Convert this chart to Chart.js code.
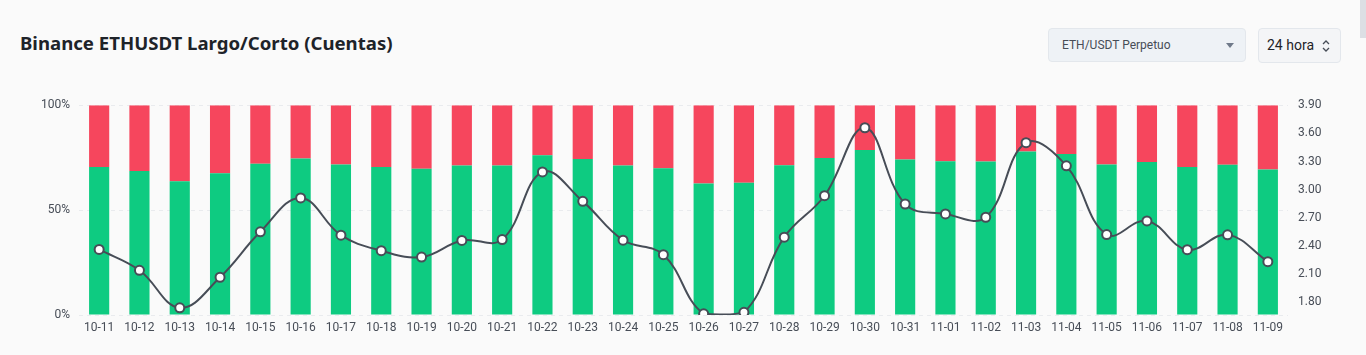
<!DOCTYPE html>
<html>
<head>
<meta charset="utf-8">
<script src="https://cdn.jsdelivr.net/npm/chart.js@4"></script>
<style>
  html,body{margin:0;padding:0;background:#fafafa;width:1366px;height:355px;overflow:hidden;font-family:"Noto Sans",sans-serif;}
  #title{position:absolute;left:20px;top:30px;font-size:18.6px;font-weight:700;color:#1e2329;}
  #sel1{position:absolute;left:1048px;top:28px;width:198px;height:34px;background:#eef2f6;border:1px solid #e3e7ec;border-radius:4px;box-sizing:border-box;font-family:Roboto,sans-serif;font-size:12px;color:#474d57;}
  #sel1 span{position:absolute;left:13px;top:9px;}
  #caret{position:absolute;left:177px;top:14px;width:0;height:0;border-left:4px solid transparent;border-right:4px solid transparent;border-top:5px solid #707a8a;}
  #sel2{position:absolute;left:1258px;top:28px;width:83px;height:35px;background:#f4f5f7;border:1px solid #e3e7ec;border-radius:4px;box-sizing:border-box;font-family:Roboto,sans-serif;font-size:14px;color:#1e2329;}
  #sel2 span{position:absolute;left:8px;top:8px;}
  #sel2 svg{position:absolute;left:62px;top:10px;}
  #scroll{position:absolute;left:1360px;top:0;width:6px;height:38px;background:#dcdfe4;}
  #wrap{position:absolute;left:0;top:88px;width:1366px;height:256px;}
</style>
</head>
<body>
<div id="title">Binance ETHUSDT Largo/Corto (Cuentas)</div>
<div id="sel1"><span>ETH/USDT Perpetuo</span><div id="caret"></div></div>
<div id="sel2"><span>24 hora</span><svg width="10" height="14" viewBox="0 0 10 14"><path d="M2 5 L5 2 L8 5 M2 9 L5 12 L8 9" fill="none" stroke="#474d57" stroke-width="1.3"/></svg></div>
<div id="scroll"></div>
<div id="wrap"><canvas id="c"></canvas></div>
<script>
const categories = ["10-11","10-12","10-13","10-14","10-15","10-16","10-17","10-18","10-19","10-20","10-21","10-22","10-23","10-24","10-25","10-26","10-27","10-28","10-29","10-30","10-31","11-01","11-02","11-03","11-04","11-05","11-06","11-07","11-08","11-09"];
const longPct  = [70.5,68.6,63.8,67.6,72.1,74.6,71.7,70.5,69.7,71.3,71.3,76.2,74.3,71.3,70.0,62.7,63.0,71.4,74.8,78.7,74.1,73.3,73.2,77.9,76.7,71.7,72.9,70.5,71.6,69.4];
const shortPct = [29.5,31.4,36.2,32.4,27.9,25.4,28.3,29.5,30.3,28.7,28.7,23.8,25.7,28.7,30.0,37.3,37.0,28.6,25.2,21.3,25.9,26.7,26.8,22.1,23.3,28.3,27.1,29.5,28.4,30.6];
const ratio    = [2.364,2.142,1.743,2.068,2.552,2.912,2.516,2.351,2.283,2.460,2.470,3.190,2.876,2.463,2.308,1.679,1.694,2.495,2.936,3.660,2.848,2.742,2.707,3.501,3.254,2.523,2.668,2.361,2.520,2.234];
const leftTicks  = [0,50,100];
const rightTicks = [1.80,2.10,2.40,2.70,3.00,3.30,3.60,3.90];

const tickFont = {family:"Roboto", size:12};
const tickColor = "#474d57";

new Chart(document.getElementById("c"), {
  data: {
    labels: categories,
    datasets: [
      {type:"line", label:"Ratio", data:ratio, yAxisID:"y1", borderColor:"#474d57", borderWidth:2, tension:0.4,
       pointRadius:4.5, pointBackgroundColor:"#ffffff", pointBorderColor:"#474d57", pointBorderWidth:2, order:0},
      {type:"bar", label:"Largo", data:longPct, yAxisID:"y", backgroundColor:"#0ecb81", stack:"s", order:1,
       categoryPercentage:1, barPercentage:0.5},
      {type:"bar", label:"Corto", data:shortPct, yAxisID:"y", backgroundColor:"#f6465d", stack:"s", order:1,
       categoryPercentage:1, barPercentage:0.5}
    ]
  },
  options: {
    responsive:true, maintainAspectRatio:false, animation:false,
    layout:{padding:0},
    plugins:{legend:{display:false}, tooltip:{enabled:false}},
    scales:{
      x:{stacked:true, grid:{display:false, drawTicks:false}, border:{display:false},
         ticks:{font:tickFont, color:tickColor, padding:6, maxRotation:0, autoSkip:false},
         afterFit:(s)=>{s.height=29;}},
      y:{stacked:true, position:"left", min:0, max:100,
         grid:{color:"#e9ebee", drawTicks:false, lineWidth:1}, border:{display:false, dash:[4,4]},
         afterBuildTicks:(s)=>{s.ticks = leftTicks.map(v=>({value:v}));},
         ticks:{font:tickFont, color:tickColor, padding:9, callback:(v)=>v+"%"},
         afterFit:(s)=>{s.width=79;}},
      y1:{position:"right", min:1.666, max:3.9,
         grid:{display:false, drawTicks:false}, border:{display:false},
         afterBuildTicks:(s)=>{s.ticks = rightTicks.map(v=>({value:v}));},
         ticks:{font:tickFont, color:tickColor, padding:10, callback:(v)=>Number(v).toFixed(2)},
         afterFit:(s)=>{s.width=78;}}
    }
  }
});
</script>
</body>
</html>
